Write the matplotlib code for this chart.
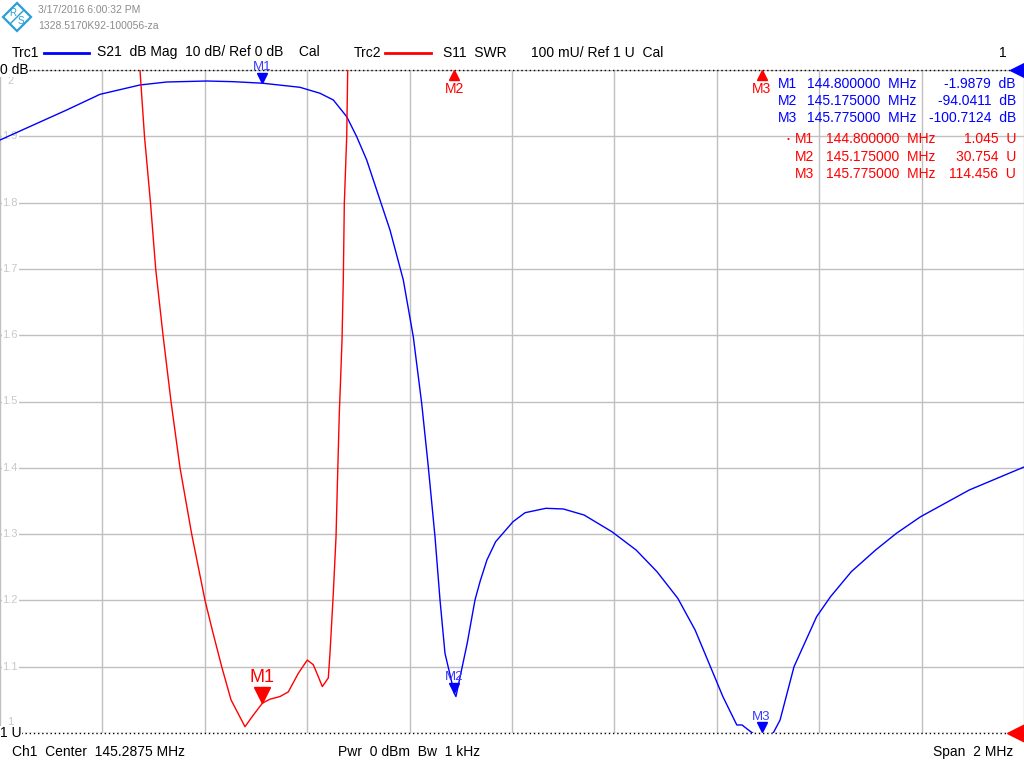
import numpy as np
import matplotlib
matplotlib.use("Agg")
import matplotlib.pyplot as plt
from matplotlib.transforms import offset_copy
from matplotlib.patches import Polygon

plt.rcParams['font.family'] = ['Liberation Sans', 'DejaVu Sans']

# ---- sweep settings ----
center_mhz = 145.2875
span_mhz = 2.0

# ---- Trc1: S21 dB Mag ----
s21_freq = [144.2875, 144.3525, 144.4178, 144.4828, 144.5609, 144.6131, 144.6912,
            144.7426, 144.8000, 144.8734, 144.9125, 144.9385, 144.9647, 144.9842,
            145.0037, 145.0297, 145.0492, 145.0752, 145.0947, 145.1111, 145.1240,
            145.1371, 145.1469, 145.1566, 145.1750, 145.1780, 145.2000, 145.2152,
            145.2250, 145.2385, 145.2555, 145.2895, 145.3131, 145.3537, 145.3877,
            145.4283, 145.4826, 145.5299, 145.5707, 145.6113, 145.6451, 145.6723,
            145.6994, 145.7266, 145.7367, 145.7570, 145.7750, 145.7977, 145.8111,
            145.8383, 145.8824, 145.9096, 145.9502, 145.9977, 146.0383, 146.0857,
            146.1805, 146.2875]
s21_db = [-10.56, -8.30, -6.03, -3.67, -2.26, -1.81, -1.66,
          -1.76, -1.99, -2.61, -3.51, -4.52, -7.04, -10.06,
          -13.57, -19.61, -24.13, -31.67, -40.23, -50.27, -59.83,
          -70.39, -79.94, -87.98, -94.04, -94.5, -86.47, -79.94,
          -77.18, -73.91, -71.15, -68.13, -66.77, -66.11, -66.21,
          -67.12, -69.64, -72.40, -75.67, -79.68, -84.46, -89.49,
          -94.52, -98.79, -98.79, -100.0, -100.71, -100.0, -98.04,
          -90.00, -82.46, -79.44, -75.67, -72.40, -69.88, -67.37,
          -63.35, -59.88]

# ---- Trc2: S11 SWR ----
s11_freq = [144.5570, 144.5609, 144.5697, 144.5814, 144.5916, 144.6059, 144.6215,
            144.6391, 144.6619, 144.6879, 144.7035, 144.7205, 144.7387, 144.7660,
            144.7822, 144.8000, 144.8148, 144.8344, 144.8506, 144.8701, 144.8877,
            144.8994, 144.9092, 144.9170, 144.9287, 144.9320, 144.9385, 144.9438,
            144.9463, 144.9502, 144.9529, 144.9555, 144.9580, 144.9600, 144.9647,
            144.9666, 144.9690]
s11_swr = [2.10, 2.00, 1.90, 1.80, 1.70, 1.60, 1.50,
           1.40, 1.30, 1.20, 1.151, 1.10, 1.05, 1.0095,
           1.027, 1.045, 1.051, 1.055, 1.062, 1.090, 1.110,
           1.103, 1.085, 1.070, 1.083, 1.120, 1.211, 1.296,
           1.371, 1.482, 1.537, 1.593, 1.683, 1.799, 1.900,
           2.00, 2.10]

# ---- markers ----
marker_names = ["M1", "M2", "M3"]
marker_freq = [144.800000, 145.175000, 145.775000]
marker_s21 = [-1.9879, -94.0411, -100.7124]
marker_swr = [1.045, 30.754, 114.456]

swr_labels = ["2", "1.9", "1.8", "1.7", "1.6", "1.5", "1.4", "1.3", "1.2", "1.1", "1"]

BLUE = "#0000ff"
RED = "#ff0000"
GRID = "#c0c0c0"
GRAY_TXT = "#8c8c8c"
FS = 10

W, H = 1024, 768
fig = plt.figure(figsize=(W / 100, H / 100), dpi=100)


def px(x, y):
    return x / W, 1 - y / H


f_lo = center_mhz - span_mhz / 2
f_hi = center_mhz + span_mhz / 2

ax = fig.add_axes([0, 35 / H, 1, 663 / H])
ax.set_xlim(f_lo, f_hi)
ax.set_ylim(-100, 0)
ax.set_xticks(np.linspace(f_lo, f_hi, 11))
ax.set_yticks(np.linspace(-100, 0, 11))
ax.grid(True, color=GRID, linewidth=1, zorder=0)
ax.set_axisbelow(True)
ax.tick_params(length=0, labelbottom=False, labelleft=False)
for s in ax.spines.values():
    s.set_visible(False)
ax.axhline(0, color="black", linestyle=(0, (1, 2)), linewidth=1, zorder=3, clip_on=False)
ax.axhline(-100, color="black", linestyle=(0, (1, 2)), linewidth=1, zorder=3, clip_on=False)

ax2 = ax.twinx()
ax2.set_ylim(1, 2)
ax2.set_yticks([])
for s in ax2.spines.values():
    s.set_visible(False)

# SWR scale labels on the left (drawn in the lower axes, below the traces)
for i, lab in enumerate(swr_labels):
    v = 2 - i * 0.1
    va = "center"
    dy = 0
    if i == 0:
        va, dy = "top", -6
    elif i == len(swr_labels) - 1:
        va, dy = "bottom", 6
    tr = offset_copy(ax2.transData, fig=fig, x=0, y=dy, units="dots")
    ax.text(f_lo + 0.02, v, lab, color="#c8c8c8", fontsize=8, ha="center", va=va,
            transform=tr, bbox=dict(facecolor="white", edgecolor="none", pad=0.5), zorder=2)

ax.plot(s21_freq, s21_db, color=BLUE, linewidth=1, zorder=5)
ax2.plot(s11_freq, s11_swr, color=RED, linewidth=1, zorder=5)

# Trc1 markers
for name, f, v in zip(marker_names, marker_freq, marker_s21):
    v_show = max(v, -100)
    tri = offset_copy(ax.transData, fig=fig, x=0, y=4, units="points")
    ax.plot(f, v_show, marker="v", color=BLUE, markersize=7, transform=tri, clip_on=False, zorder=6)
    txt = offset_copy(ax.transData, fig=fig, x=0, y=7.5, units="points")
    ax.text(f, v_show, name, color="#3a3aff", fontsize=9.5, ha="center", va="bottom",
            transform=txt, zorder=6)

# Trc2 markers
for name, f, v in zip(marker_names, marker_freq, marker_swr):
    if v <= 2:
        tri = offset_copy(ax2.transData, fig=fig, x=0, y=6, units="points")
        ax2.plot(f, v, marker="v", color=RED, markersize=11, transform=tri, zorder=6)
        txt = offset_copy(ax2.transData, fig=fig, x=0, y=12, units="points")
        ax2.text(f, v, name, color=RED, fontsize=13, ha="center", va="bottom",
                 transform=txt, zorder=6)
    else:
        tri = offset_copy(ax2.transData, fig=fig, x=0, y=-3.5, units="points")
        ax2.plot(f, 2, marker="^", color=RED, markersize=7, transform=tri, clip_on=False, zorder=6)
        txt = offset_copy(ax2.transData, fig=fig, x=0, y=-8.5, units="points")
        ax2.text(f, 2, name, color=RED, fontsize=FS, ha="center", va="top",
                 transform=txt, zorder=6)

# reference level arrows at the right edge
ax.plot(f_hi, 0, marker="<", color=BLUE, markersize=10,
        transform=offset_copy(ax.transData, fig=fig, x=-5, y=0, units="points"), clip_on=False, zorder=7)
ax2.plot(f_hi, 1, marker="<", color=RED, markersize=13,
         transform=offset_copy(ax2.transData, fig=fig, x=-6, y=0, units="points"), clip_on=False, zorder=7)

# marker readout table
row_y = [84, 101, 118]
for i, (name, f, v) in enumerate(zip(marker_names, marker_freq, marker_s21)):
    fig.text(*px(778, row_y[i]), name, color=BLUE, fontsize=FS, va="center")
    fig.text(*px(807, row_y[i]), f"{f:.6f}  MHz", color=BLUE, fontsize=FS, va="center")
    fig.text(*px(1016, row_y[i]), f"{v:.4f}  dB", color=BLUE, fontsize=FS, va="center", ha="right")
row_y2 = [139, 157, 174]
for i, (name, f, v) in enumerate(zip(marker_names, marker_freq, marker_swr)):
    if i == 0:
        fig.text(*px(787, row_y2[i]), "•", color=RED, fontsize=6, va="center")
    fig.text(*px(795, row_y2[i]), name, color=RED, fontsize=FS, va="center")
    fig.text(*px(826, row_y2[i]), f"{f:.6f}  MHz", color=RED, fontsize=FS, va="center")
    fig.text(*px(1016, row_y2[i]), f"{v:.3f}  U", color=RED, fontsize=FS, va="center", ha="right")

# scale labels
fig.text(*px(0, 70), "0 dB", fontsize=FS, va="center", ha="left",
         bbox=dict(facecolor="white", edgecolor="none", pad=0.3), zorder=8)
fig.text(*px(0, 733), "1 U", fontsize=FS, va="center", ha="left",
         bbox=dict(facecolor="white", edgecolor="none", pad=0.3), zorder=8)

# header
fig.text(*px(38, 10), "3/17/2016 6:00:32 PM", color=GRAY_TXT, fontsize=7.5, va="center")
fig.text(*px(38, 26), "1328.5170K92-100056-za", color=GRAY_TXT, fontsize=7.5, va="center")
logo = Polygon([px(17, 3), px(31, 17), px(17, 31), px(3, 17)], closed=True,
               transform=fig.transFigure, facecolor="white", edgecolor="#2a9fd6", linewidth=1.6)
fig.patches.append(logo)
fig.text(*px(13, 13), "R", color="#2a9fd6", fontsize=7, ha="center", va="center")
fig.text(*px(21, 21), "S", color="#2a9fd6", fontsize=7, ha="center", va="center")
fig.lines.append(plt.Line2D([11 / W, 23 / W], [1 - 23 / H, 1 - 11 / H], transform=fig.transFigure,
                            color="#2a9fd6", linewidth=1))

fig.text(*px(12, 53), "Trc1", fontsize=FS, va="center")
fig.lines.append(plt.Line2D([44 / W, 89 / W], [1 - 53 / H] * 2, transform=fig.transFigure,
                            color=BLUE, linewidth=2))
fig.text(*px(97, 52), "S21  dB Mag  10 dB/ Ref 0 dB    Cal", fontsize=FS, va="center")
fig.text(*px(354, 53), "Trc2", fontsize=FS, va="center")
fig.lines.append(plt.Line2D([385 / W, 431 / W], [1 - 53 / H] * 2, transform=fig.transFigure,
                            color=RED, linewidth=2))
fig.text(*px(443, 53), "S11  SWR", fontsize=FS, va="center")
fig.text(*px(531, 53), "100 mU/ Ref 1 U  Cal", fontsize=FS, va="center")
fig.text(*px(1007, 53), "1", fontsize=FS, va="center", ha="right")

# footer
fig.text(*px(12, 752), f"Ch1  Center  {center_mhz} MHz", fontsize=FS, va="center")
fig.text(*px(338, 752), "Pwr  0 dBm  Bw  1 kHz", fontsize=FS, va="center")
fig.text(*px(1013, 752), f"Span  {span_mhz:g} MHz", fontsize=FS, va="center", ha="right")

fig.savefig("out.png", dpi=100)
